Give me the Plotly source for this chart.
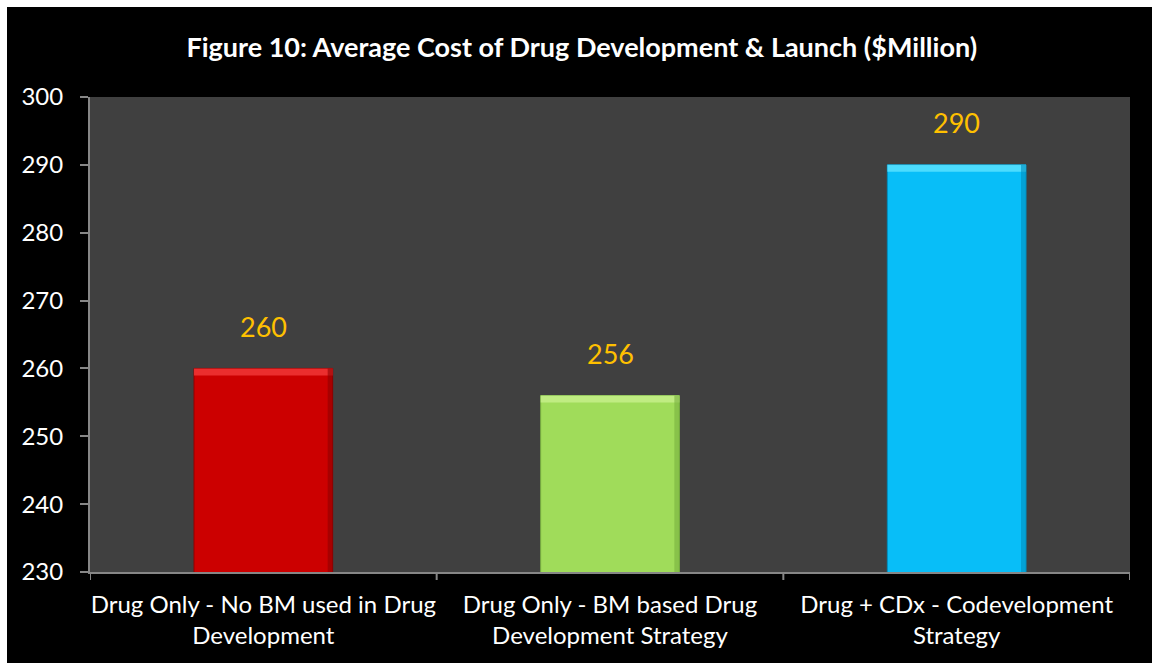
import plotly.graph_objects as go

# Average cost of drug development & launch, $ million
categories = [
    "Drug Only - No BM used in Drug<br>Development",
    "Drug Only - BM based Drug<br>Development Strategy",
    "Drug + CDx - Codevelopment<br>Strategy",
]
costs = [260, 256, 290]
bar_colors = ["#CC0000", "#A0DC5A", "#08BEF8"]
top_colors = ["#F23A3A", "#C8F08C", "#5EE4FF"]
edge_colors = ["#8E0000", "#78B040", "#0090C0"]
y_ticks = [230, 240, 250, 260, 270, 280, 290, 300]

FONT = "Lato, 'Open Sans', sans-serif"
BAR_WIDTH = 0.4

fig = go.Figure(
    go.Bar(
        x=list(range(len(categories))),
        y=costs,
        width=BAR_WIDTH,
        marker=dict(color=bar_colors, line=dict(color=edge_colors, width=1)),
        hoverinfo="x+y",
    )
)

# bevelled look: lighter top band and darker right edge on every bar
for i, (v, tc, ec) in enumerate(zip(costs, top_colors, edge_colors)):
    fig.add_shape(
        type="rect", xref="x", yref="y",
        x0=i - BAR_WIDTH / 2, x1=i + BAR_WIDTH / 2,
        ysizemode="pixel", yanchor=v, y0=-7, y1=0,
        fillcolor=tc, line=dict(width=0), opacity=0.8, layer="above",
    )
    fig.add_shape(
        type="rect", xref="x", yref="y",
        xsizemode="pixel", xanchor=i + BAR_WIDTH / 2, x0=-5, x1=0,
        y0=230, y1=v,
        fillcolor=ec, line=dict(width=0), opacity=0.6, layer="above",
    )
    fig.add_annotation(
        x=i, y=v, text=str(v), showarrow=False, yshift=42,
        font=dict(family=FONT, size=27, color="#FFC000"),
    )

# white strip along the top and left edges of the page
fig.add_shape(type="rect", xref="paper", yref="paper",
              x0=-90 / 1040, x1=1062 / 1040, y0=1 + 90 / 475, y1=1 + 97 / 475,
              fillcolor="white", line=dict(width=0), layer="below")
fig.add_shape(type="rect", xref="paper", yref="paper",
              x0=-90 / 1040, x1=-83 / 1040, y0=-91 / 475, y1=1 + 97 / 475,
              fillcolor="white", line=dict(width=0), layer="below")

fig.update_layout(
    width=1152, height=663,
    margin=dict(l=90, r=22, t=97, b=91),
    paper_bgcolor="black",
    plot_bgcolor="#404040",
    showlegend=False,
    bargap=0.6,
    title=dict(
        text="<b>Figure 10: Average Cost of Drug Development &amp; Launch ($Million)</b>",
        x=0.505, xref="container", xanchor="center",
        y=0.928, yref="container", yanchor="middle",
        font=dict(family=FONT, size=27, color="white"),
    ),
    xaxis=dict(
        tickmode="array",
        tickvals=list(range(len(categories))),
        ticktext=categories,
        range=[-0.5, len(categories) - 0.5],
        showgrid=False, zeroline=False,
        showline=True, linecolor="#868686", linewidth=2,
        ticks="",
        ticklabelstandoff=10,
        tickfont=dict(family=FONT, size=24, color="white"),
    ),
    yaxis=dict(
        range=[230, 300],
        tickvals=y_ticks,
        showgrid=False, zeroline=False,
        showline=True, linecolor="#868686", linewidth=2,
        ticks="outside", ticklen=8, tickcolor="#868686", tickwidth=2,
        ticklabelstandoff=12,
        tickfont=dict(family=FONT, size=24, color="white"),
    ),
)

# category divider ticks on the x axis (between bars and at both ends)
for b in [i - 0.5 for i in range(len(categories) + 1)]:
    fig.add_shape(type="line", xref="x", yref="paper",
                  x0=b, x1=b, ysizemode="pixel", yanchor=0, y0=-8, y1=0,
                  line=dict(color="#868686", width=2))

fig.write_html("out.html")
